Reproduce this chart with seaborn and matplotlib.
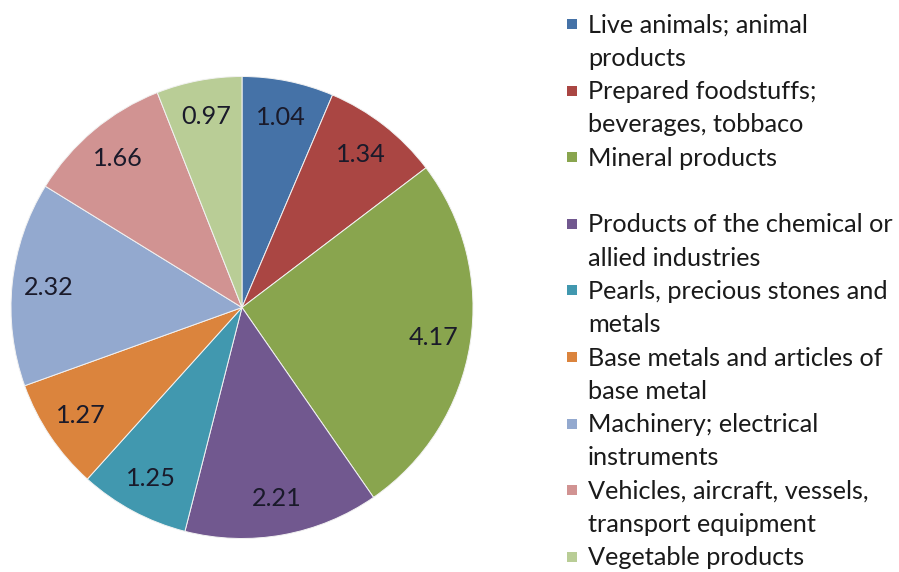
import matplotlib
matplotlib.use("Agg")
import matplotlib.pyplot as plt
import seaborn as sns
from matplotlib.patches import Rectangle

# ---- data ----
categories = [
    "Live animals; animal\nproducts",
    "Prepared foodstuffs;\nbeverages, tobbaco",
    "Mineral products",
    "Products of the chemical or\nallied industries",
    "Pearls, precious stones and\nmetals",
    "Base metals and articles of\nbase metal",
    "Machinery; electrical\ninstruments",
    "Vehicles, aircraft, vessels,\ntransport equipment",
    "Vegetable products",
]
values = [1.04, 1.34, 4.17, 2.21, 1.25, 1.27, 2.32, 1.66, 0.97]
colors = ["#4572A7", "#AA4643", "#89A54E", "#71588F", "#4198AF",
          "#DB843D", "#93A9CF", "#D19392", "#B9CD96"]

sns.set_theme(style="white")
plt.rcParams["font.family"] = ["Lato", "DejaVu Sans"]

W, H, DPI = 899, 572, 100
fig = plt.figure(figsize=(W / DPI, H / DPI), dpi=DPI)
fig.patch.set_facecolor("white")

# pie geometry (pixels)
cx, cy, r = 242, 307.5, 231
ax = fig.add_axes([(cx - r) / W, (H - cy - r) / H, 2 * r / W, 2 * r / H])
total = sum(values)
palette = sns.color_palette(colors)

# fit font size so the widest legend line is ~305 px
renderer = fig.canvas.get_renderer()
probe = fig.text(0, 0, "Products of the chemical or", fontsize=20)
wpx = probe.get_window_extent(renderer).width
probe.remove()
fs = 20 * 305.0 / wpx

wedges, texts, autotexts = ax.pie(
    values, colors=palette, startangle=90, counterclock=False,
    autopct=lambda p: f"{p * total / 100:.2f}", pctdistance=0.84,
    wedgeprops=dict(edgecolor="#f2f2f2", linewidth=0.7),
    textprops=dict(fontsize=fs * 1.0, color="#1a1a2a"),
)
ax.set_xlim(-1, 1)
ax.set_ylim(-1, 1)
ax.set_axis_off()

# legend (manual, Excel-like: two lines per entry, marker on first line)
lx_marker, lx_text = 567, 588
y0, pitch, lead = 25, 66.6, 33.3
msz = 10
for i, (lab, col) in enumerate(zip(categories, palette)):
    yc = y0 + i * pitch
    fig.patches.append(Rectangle(((lx_marker) / W, (H - yc - msz / 2 + 1) / H),
                                 msz / W, msz / H, transform=fig.transFigure,
                                 facecolor=col, edgecolor="none"))
    for j, line in enumerate(lab.split("\n")):
        fig.text(lx_text / W, (H - (yc + j * lead)) / H, line,
                 fontsize=fs, color="#1a1a1a", ha="left", va="center")

fig.savefig("out.png", dpi=DPI, facecolor="white")
